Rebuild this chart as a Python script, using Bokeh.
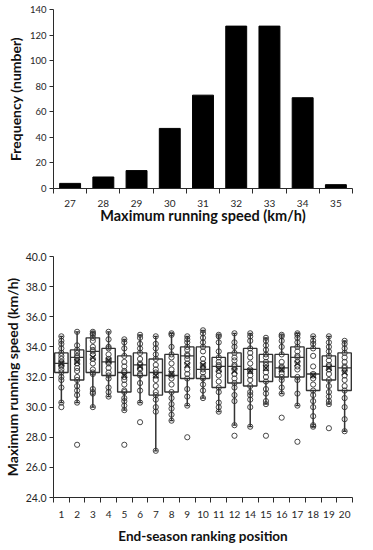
from bokeh.plotting import figure
from bokeh.layouts import column
from bokeh.models import FixedTicker, Range1d, NumeralTickFormatter
from bokeh.embed import file_html
from bokeh.resources import INLINE

# ---------------- data: histogram ----------------
speed_bins = ["27", "28", "29", "30", "31", "32", "33", "34", "35"]
frequency = [4, 9, 14, 47, 73, 127, 127, 71, 3]
freq_ticks = [0, 20, 40, 60, 80, 100, 120, 140]

# ---------------- data: box plots ----------------
ranking = ["1", "2", "3", "4", "5", "6", "7", "8", "9", "10",
           "11", "12", "14", "15", "16", "17", "18", "19", "20"]
q1 = [32.3, 31.8, 32.3, 32.1, 31.0, 32.1, 30.8, 31.0, 31.9, 31.9,
      31.3, 31.6, 31.4, 31.7, 32.0, 32.0, 31.1, 31.8, 31.1]
median = [32.9, 33.3, 33.7, 33.0, 32.3, 32.8, 32.3, 32.1, 33.4, 32.5,
          32.7, 32.7, 32.5, 33.0, 32.6, 33.3, 32.2, 32.7, 32.6]
q3 = [33.6, 33.8, 34.6, 33.9, 33.4, 33.6, 33.2, 33.5, 34.0, 34.0,
      33.3, 33.6, 33.9, 33.5, 33.5, 34.0, 33.9, 33.4, 33.6]
whisker_low = [30.3, 30.3, 30.0, 30.7, 29.8, 30.3, 27.1, 29.1, 30.1, 30.6,
               29.7, 28.8, 28.7, 30.2, 30.9, 30.1, 28.7, 30.2, 28.4]
whisker_high = [34.7, 35.0, 35.0, 35.0, 34.5, 34.8, 34.7, 34.9, 34.7, 35.1,
                34.8, 34.9, 34.9, 34.6, 34.8, 34.9, 34.7, 34.7, 34.4]
mean = [32.9, 33.0, 33.3, 33.1, 32.1, 32.7, 32.1, 32.2, 32.8, 32.8,
        32.5, 32.4, 32.4, 32.6, 32.5, 32.9, 32.1, 32.6, 32.3]
players = [
    [34.7, 34.4, 34.2, 33.9, 33.6, 33.4, 33.2, 33.0, 32.9, 32.8, 32.7, 32.5, 32.3, 32.0, 31.8, 31.3, 30.3, 30.0],
    [35.0, 34.1, 33.8, 33.6, 33.4, 33.3, 33.1, 32.9, 32.6, 32.4, 32.0, 31.8, 31.4, 31.1, 30.8, 30.3, 27.5],
    [35.0, 34.9, 34.8, 34.6, 34.4, 34.0, 33.8, 33.7, 33.5, 33.2, 32.9, 32.5, 32.3, 32.2, 31.2, 31.0, 30.9, 30.0],
    [35.0, 34.5, 34.0, 33.9, 33.5, 33.2, 33.1, 33.0, 32.9, 32.6, 32.3, 32.1, 31.9, 31.3, 31.0, 30.7],
    [34.5, 34.3, 33.9, 33.4, 33.0, 32.7, 32.4, 32.3, 32.0, 31.8, 31.5, 31.1, 31.0, 30.6, 30.4, 30.1, 29.8, 27.5],
    [34.8, 34.6, 34.2, 33.9, 33.6, 33.2, 32.9, 32.8, 32.6, 32.5, 32.2, 32.1, 31.6, 31.1, 30.3, 29.0],
    [34.7, 34.2, 33.9, 33.5, 33.2, 32.8, 32.5, 32.3, 32.1, 31.8, 31.4, 31.0, 30.8, 30.5, 30.0, 29.7, 27.1],
    [34.9, 34.8, 34.0, 33.5, 33.3, 32.9, 32.5, 32.2, 32.1, 31.9, 31.5, 31.0, 30.6, 30.2, 29.9, 29.5, 29.1],
    [34.7, 34.5, 34.3, 34.0, 33.8, 33.5, 33.4, 33.2, 32.9, 32.5, 32.2, 31.9, 31.2, 30.7, 30.1, 28.0],
    [35.1, 34.9, 34.6, 34.3, 34.0, 33.7, 33.2, 32.9, 32.7, 32.5, 32.3, 32.0, 31.9, 31.5, 31.1, 30.6],
    [34.8, 34.7, 34.3, 33.7, 33.3, 33.0, 32.8, 32.7, 32.4, 32.1, 31.7, 31.3, 31.0, 30.3, 30.0, 29.7],
    [34.9, 34.3, 34.0, 33.6, 33.3, 33.1, 32.8, 32.7, 32.5, 32.2, 31.9, 31.6, 31.3, 30.8, 30.4, 28.8, 28.1],
    [34.9, 34.7, 34.4, 33.9, 33.6, 33.3, 32.9, 32.5, 32.4, 32.1, 31.8, 31.4, 31.0, 30.8, 30.5, 30.0, 28.7],
    [34.6, 34.4, 34.1, 33.8, 33.5, 33.3, 33.0, 32.8, 32.6, 32.3, 32.0, 31.7, 31.2, 30.9, 30.4, 30.2, 28.1],
    [34.8, 34.7, 34.4, 34.0, 33.5, 33.0, 32.7, 32.6, 32.5, 32.2, 32.0, 31.8, 31.3, 30.9, 29.3],
    [34.9, 34.8, 34.6, 34.3, 34.0, 33.7, 33.4, 33.3, 33.0, 32.7, 32.5, 32.0, 31.8, 30.9, 30.1, 27.7],
    [34.7, 34.4, 34.2, 33.9, 33.4, 32.7, 32.2, 32.1, 31.9, 31.5, 31.1, 30.8, 30.4, 30.0, 29.4, 28.8, 28.7],
    [34.7, 34.3, 34.0, 33.7, 33.4, 33.1, 32.8, 32.7, 32.5, 32.2, 31.8, 31.4, 31.0, 30.7, 30.4, 30.2, 28.6],
    [34.4, 34.2, 33.9, 33.6, 33.3, 33.0, 32.7, 32.6, 32.4, 32.1, 31.8, 31.4, 31.1, 30.6, 30.0, 29.2, 28.4],
]
speed_ticks = [24, 26, 28, 30, 32, 34, 36, 38, 40]

FONT = "Lato"
AXIS_COL = "#2b2b2b"
TEXT_COL = "#262626"


def style_axes(p):
    p.xgrid.visible = False
    p.ygrid.visible = False
    p.outline_line_color = None
    p.background_fill_color = "white"
    p.border_fill_color = "white"
    for ax in (p.xaxis[0], p.yaxis[0]):
        ax.axis_line_color = AXIS_COL
        ax.axis_line_width = 1
        ax.major_tick_line_color = AXIS_COL
        ax.minor_tick_line_color = AXIS_COL
        ax.major_label_text_font = FONT
        ax.major_label_text_color = TEXT_COL
        ax.axis_label_text_font = FONT
        ax.axis_label_text_font_style = "bold"
        ax.axis_label_text_color = "#111111"
        ax.axis_label_text_font_size = "14px"


# ---------------- top: histogram ----------------
n_bins = len(speed_bins)
bin_idx = list(range(n_bins))
p1 = figure(width=357, height=226, output_backend="svg", toolbar_location=None,
            x_range=Range1d(-0.5, n_bins - 0.5), y_range=Range1d(0, freq_ticks[-1]),
            min_border_left=44, min_border_right=5, min_border_top=9, min_border_bottom=37)
p1.vbar(x=bin_idx, top=frequency, width=0.63, color="black")
style_axes(p1)
p1.xaxis.ticker = FixedTicker(ticks=bin_idx, minor_ticks=[i - 0.5 for i in range(n_bins + 1)])
p1.xaxis.major_label_overrides = {i: s for i, s in enumerate(speed_bins)}
p1.xaxis.major_tick_out = 0
p1.xaxis.major_tick_in = 0
p1.xaxis.minor_tick_out = 5
p1.xaxis.minor_tick_in = 0
p1.xaxis.major_label_standoff = 6
p1.xaxis.major_label_text_font_size = "10px"
p1.xaxis.axis_label = "Maximum running speed (km/h)"
p1.xaxis.axis_label_text_font_size = "14.5px"
p1.xaxis.axis_label_standoff = -3
p1.yaxis.ticker = FixedTicker(ticks=freq_ticks, minor_ticks=[])
p1.yaxis.major_tick_out = 4
p1.yaxis.major_tick_in = 0
p1.yaxis.minor_tick_out = 0
p1.yaxis.minor_tick_in = 0
p1.yaxis.major_label_standoff = 3
p1.yaxis.major_label_text_font_size = "9.5px"
p1.yaxis.axis_label = "Frequency (number)"
p1.yaxis.axis_label_standoff = 3

# ---------------- bottom: box plots ----------------
n_rank = len(ranking)
rank_idx = list(range(n_rank))
box_w = 0.85
cap_w = 0.25
p2 = figure(width=357, height=320, output_backend="svg", toolbar_location=None,
            x_range=Range1d(-0.5, n_rank - 0.5), y_range=Range1d(speed_ticks[0], speed_ticks[-1]),
            min_border_left=47, min_border_right=3, min_border_top=30, min_border_bottom=48)
style_axes(p2)
# whiskers
p2.segment(x0=rank_idx, y0=q3, x1=rank_idx, y1=whisker_high, line_color="#333333", line_width=1.5)
p2.segment(x0=rank_idx, y0=q1, x1=rank_idx, y1=whisker_low, line_color="#333333", line_width=1.5)
p2.segment(x0=[i - cap_w / 2 for i in rank_idx], y0=whisker_high,
           x1=[i + cap_w / 2 for i in rank_idx], y1=whisker_high, line_color="#333333", line_width=1.3)
p2.segment(x0=[i - cap_w / 2 for i in rank_idx], y0=whisker_low,
           x1=[i + cap_w / 2 for i in rank_idx], y1=whisker_low, line_color="#333333", line_width=1.3)
# boxes
p2.vbar(x=rank_idx, width=box_w, bottom=q1, top=q3, fill_color="white",
        line_color="#333333", line_width=1.4)
# medians
p2.segment(x0=[i - box_w / 2 for i in rank_idx], y0=median,
           x1=[i + box_w / 2 for i in rank_idx], y1=median, line_color="#333333", line_width=1.3)
# individual points
px, py = [], []
for i, vals in enumerate(players):
    px.extend([i] * len(vals))
    py.extend(vals)
p2.scatter(x=px, y=py, marker="circle", size=5.2, fill_alpha=0,
           line_color="#333333", line_width=0.9)
# means
p2.scatter(x=rank_idx, y=mean, marker="x", size=8, line_color="#222222", line_width=1.3)

p2.xaxis.ticker = FixedTicker(ticks=rank_idx, minor_ticks=[i - 0.5 for i in range(n_rank + 1)])
p2.xaxis.major_label_overrides = {i: s for i, s in enumerate(ranking)}
p2.xaxis.major_tick_out = 0
p2.xaxis.major_tick_in = 0
p2.xaxis.minor_tick_out = 5
p2.xaxis.minor_tick_in = 0
p2.xaxis.major_label_standoff = 8
p2.xaxis.major_label_text_font_size = "10px"
p2.xaxis.axis_label = "End-season ranking position"
p2.xaxis.axis_label_text_font_size = "13.5px"
p2.xaxis.axis_label_standoff = 7
p2.yaxis.ticker = FixedTicker(ticks=speed_ticks, minor_ticks=[])
p2.yaxis.formatter = NumeralTickFormatter(format="0.0")
p2.yaxis.major_tick_out = 4
p2.yaxis.major_tick_in = 0
p2.yaxis.minor_tick_out = 0
p2.yaxis.minor_tick_in = 0
p2.yaxis.major_label_standoff = 3
p2.yaxis.major_label_text_font_size = "10.5px"
p2.yaxis.axis_label = "Maximum running speed (km/h)"
p2.yaxis.axis_label_standoff = 2

layout = column(p1, p2, spacing=0)
open("out.html", "w").write(file_html(layout, INLINE))
